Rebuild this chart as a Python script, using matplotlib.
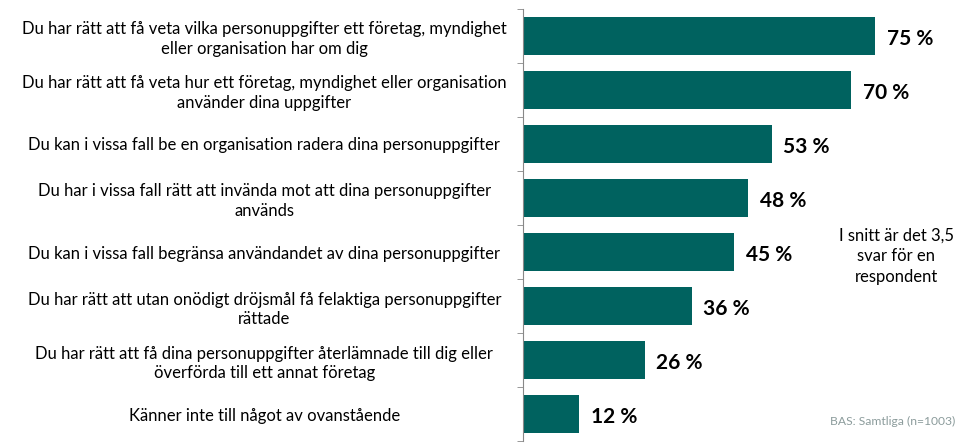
import numpy as np
import matplotlib
matplotlib.use("Agg")
from matplotlib import pyplot as plt

labels = [
    "Du har rätt att få veta vilka personuppgifter ett företag, myndighet\neller organisation har om dig",
    "Du har rätt att få veta hur ett företag, myndighet eller organisation\nanvänder dina uppgifter",
    "Du kan i vissa fall be en organisation radera dina personuppgifter",
    "Du har i vissa fall rätt att invända mot att dina personuppgifter\nanvänds",
    "Du kan i vissa fall begränsa användandet av dina personuppgifter",
    "Du har rätt att utan onödigt dröjsmål få felaktiga personuppgifter\nrättade",
    "Du har rätt att få dina personuppgifter återlämnade till dig eller\növerförda till ett annat företag",
    "Känner inte till något av ovanstående",
]
values = [75, 70, 53, 48, 45, 36, 26, 12]
note = "I snitt är det 3,5\nsvar för en\nrespondent"
base = "BAS: Samtliga (n=1003)"

plt.rcParams['font.family'] = ['Lato', 'DejaVu Sans']

fig = plt.figure(figsize=(9.75, 4.46), dpi=100)
ax = fig.add_axes([0.536, 0.011, 0.464, 0.969])

y = np.arange(len(values))
ax.barh(y, values, height=0.7, color="#00625f")
ax.set_ylim(len(values) - 0.5, -0.5)
ax.set_xlim(0, 96.3)

for yi, v in zip(y, values):
    ax.text(v + 2.5, yi + 0.05, f"{v} %", va="center", ha="left",
            fontsize=15, fontweight="bold", color="black")

ax.set_yticks(y)
ax.set_yticklabels(labels, fontsize=12, ha="center", multialignment="center",
                   linespacing=1.25)
# pad in points: label centres sit ~258 px left of the axis
ax.tick_params(axis="y", which="major", length=0, pad=186)
ax.set_yticks(np.arange(len(values) + 1) - 0.5, minor=True)
ax.tick_params(axis="y", which="minor", length=4, color="#888888", direction="out")

ax.set_xticks([])
for s in ["top", "right", "bottom"]:
    ax.spines[s].set_visible(False)
ax.spines["left"].set_color("#888888")

fig.text(0.919, 0.425, note, ha="center", va="center", fontsize=12, linespacing=1.35)
fig.text(0.98, 0.055, base, ha="right", va="center", fontsize=8.7, color="#8c9c9c")

fig.savefig("out.png", dpi=100)
